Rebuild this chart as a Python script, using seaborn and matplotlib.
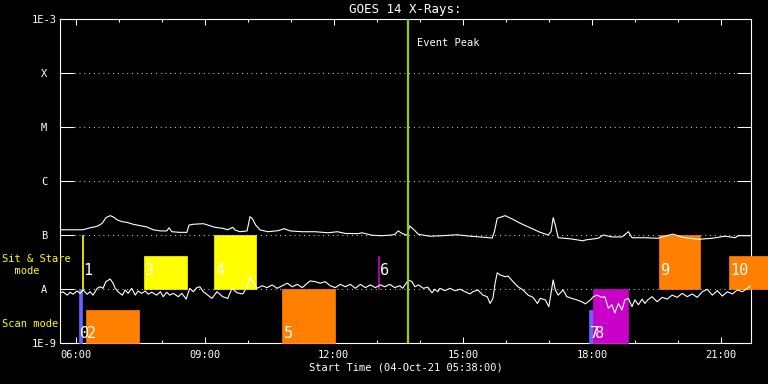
import matplotlib
matplotlib.use("Agg")
import matplotlib.pyplot as plt
import matplotlib.ticker as mticker
import pandas as pd
import seaborn as sns

START = "05:38"
END = "21:42"
PEAK = "13:43"

# 1-8 A channel (upper curve), W/m^2
long_time = ["05:38", "05:52", "05:59", "06:10", "06:20", "06:30", "06:37", "06:42", "06:48", "06:52",
             "06:58", "07:05", "07:11", "07:20", "07:32", "07:39", "07:48", "07:58", "08:07", "08:10",
             "08:14", "08:25", "08:35", "08:38", "08:44", "08:58", "09:04", "09:14", "09:25", "09:32",
             "09:39", "09:42", "09:49", "09:59", "10:03", "10:06", "10:11", "10:17", "10:28", "10:42",
             "10:51", "10:59", "11:16", "11:34", "11:52", "12:05", "12:16", "12:34", "12:39", "12:53",
             "13:07", "13:21", "13:25", "13:30", "13:35", "13:42", "13:46", "13:51", "13:58", "14:14",
             "14:32", "14:52", "15:10", "15:24", "15:41", "15:44", "15:48", "15:59", "16:09", "16:20",
             "16:34", "16:48", "16:59", "17:03", "17:06", "17:09", "17:13", "17:30", "17:48", "17:51",
             "18:09", "18:16", "18:28", "18:42", "18:51", "18:56", "19:14", "19:32", "19:53", "20:06",
             "20:28", "20:48", "21:06", "21:20", "21:24", "21:41"]
long_flux = [1.25e-7, 1.25e-7, 1.25e-7, 1.25e-7, 1.36e-7, 1.45e-7, 1.65e-7, 2.09e-7, 2.28e-7, 2.18e-7,
             1.90e-7, 1.76e-7, 1.72e-7, 1.58e-7, 1.47e-7, 1.41e-7, 1.25e-7, 1.19e-7, 1.19e-7, 1.36e-7,
             1.15e-7, 1.12e-7, 1.12e-7, 1.53e-7, 1.58e-7, 1.62e-7, 1.53e-7, 1.39e-7, 1.33e-7, 1.25e-7,
             1.39e-7, 1.24e-7, 1.15e-7, 1.19e-7, 2.18e-7, 2.04e-7, 1.53e-7, 1.24e-7, 1.15e-7, 1.20e-7,
             1.31e-7, 1.19e-7, 1.15e-7, 1.15e-7, 1.10e-7, 1.15e-7, 1.07e-7, 1.06e-7, 1.10e-7, 0.99e-7,
             0.97e-7, 1.00e-7, 1.03e-7, 1.19e-7, 1.07e-7, 0.99e-7, 1.47e-7, 1.28e-7, 1.03e-7, 0.95e-7,
             0.97e-7, 1.01e-7, 0.95e-7, 0.92e-7, 0.88e-7, 1.15e-7, 2.04e-7, 2.28e-7, 1.98e-7, 1.65e-7,
             1.36e-7, 1.12e-7, 1.00e-7, 1.15e-7, 2.09e-7, 1.53e-7, 0.89e-7, 0.85e-7, 0.78e-7, 0.81e-7,
             0.87e-7, 1.00e-7, 0.92e-7, 0.92e-7, 1.15e-7, 0.89e-7, 0.89e-7, 0.87e-7, 1.04e-7, 0.91e-7,
             0.83e-7, 0.87e-7, 0.95e-7, 0.89e-7, 0.97e-7, 0.97e-7]

# 0.5-4 A channel (lower curve), W/m^2
short_time = ["05:38", "05:42", "05:48", "05:52", "05:56", "06:02", "06:06", "06:10", "06:16", "06:20",
              "06:24", "06:30", "06:34", "06:38", "06:42", "06:48", "06:52", "06:55", "06:59", "07:05",
              "07:09", "07:13", "07:18", "07:23", "07:27", "07:32", "07:37", "07:41", "07:46", "07:53",
              "07:58", "08:02", "08:07", "08:11", "08:16", "08:23", "08:28", "08:34", "08:39", "08:44",
              "08:49", "08:53", "08:58", "09:04", "09:10", "09:17", "09:25", "09:32", "09:38", "09:45",
              "09:53", "09:59", "10:03", "10:07", "10:13", "10:20", "10:27", "10:34", "10:41", "10:48",
              "10:55", "11:02", "11:09", "11:16", "11:23", "11:27", "11:34", "11:41", "11:48", "11:55",
              "12:02", "12:09", "12:16", "12:23", "12:30", "12:37", "12:44", "12:51", "12:58", "13:05",
              "13:11", "13:18", "13:25", "13:32", "13:36", "13:44", "13:49", "13:53", "13:58", "14:05",
              "14:11", "14:17", "14:21", "14:25", "14:28", "14:35", "14:42", "14:49", "14:56", "15:03",
              "15:10", "15:14", "15:21", "15:28", "15:34", "15:38", "15:42", "15:45", "15:48", "15:52",
              "15:59", "16:03", "16:10", "16:17", "16:24", "16:31", "16:38", "16:44", "16:48", "16:55",
              "17:00", "17:03", "17:06", "17:09", "17:13", "17:20", "17:25", "17:32", "17:39", "17:46",
              "17:51", "17:58", "18:02", "18:07", "18:14", "18:18", "18:23", "18:28", "18:32", "18:37",
              "18:42", "18:46", "18:51", "18:56", "19:00", "19:05", "19:10", "19:14", "19:18", "19:24",
              "19:31", "19:38", "19:45", "19:52", "19:59", "20:06", "20:13", "20:20", "20:27", "20:34",
              "20:41", "20:48", "20:55", "21:02", "21:09", "21:16", "21:23", "21:30", "21:37", "21:41"]
short_flux = [0.83e-8, 0.89e-8, 0.77e-8, 0.87e-8, 0.80e-8, 0.92e-8, 0.83e-8, 0.96e-8, 0.80e-8, 0.89e-8,
              0.77e-8, 1.03e-8, 1.10e-8, 1.03e-8, 1.37e-8, 1.53e-8, 1.28e-8, 1.03e-8, 0.89e-8, 0.77e-8,
              0.96e-8, 0.83e-8, 1.03e-8, 0.77e-8, 0.92e-8, 0.83e-8, 0.92e-8, 0.80e-8, 0.87e-8, 0.77e-8,
              0.89e-8, 0.72e-8, 0.87e-8, 0.77e-8, 0.83e-8, 0.72e-8, 0.83e-8, 0.65e-8, 1.03e-8, 0.89e-8,
              1.06e-8, 1.10e-8, 0.89e-8, 0.77e-8, 0.67e-8, 0.89e-8, 0.72e-8, 0.67e-8, 1.03e-8, 0.85e-8,
              0.81e-8, 1.10e-8, 1.69e-8, 1.37e-8, 1.03e-8, 1.15e-8, 1.06e-8, 1.19e-8, 1.03e-8, 1.15e-8,
              1.28e-8, 1.10e-8, 1.22e-8, 1.06e-8, 1.28e-8, 1.41e-8, 1.37e-8, 1.28e-8, 1.37e-8, 1.15e-8,
              1.06e-8, 1.22e-8, 1.10e-8, 1.22e-8, 1.03e-8, 1.22e-8, 1.06e-8, 1.19e-8, 1.06e-8, 1.19e-8,
              1.10e-8, 1.22e-8, 1.06e-8, 1.15e-8, 1.03e-8, 1.47e-8, 1.37e-8, 1.10e-8, 1.19e-8, 1.03e-8,
              1.08e-8, 0.85e-8, 0.99e-8, 0.89e-8, 1.03e-8, 0.93e-8, 1.03e-8, 0.93e-8, 0.99e-8, 0.89e-8,
              0.81e-8, 0.89e-8, 0.96e-8, 0.77e-8, 0.72e-8, 0.54e-8, 0.67e-8, 1.28e-8, 2.00e-8, 1.82e-8,
              1.69e-8, 1.74e-8, 1.37e-8, 1.10e-8, 0.96e-8, 0.77e-8, 0.70e-8, 0.54e-8, 0.67e-8, 0.63e-8,
              0.47e-8, 0.83e-8, 1.47e-8, 0.96e-8, 0.77e-8, 0.96e-8, 0.72e-8, 0.67e-8, 0.63e-8, 0.58e-8,
              0.53e-8, 0.63e-8, 0.72e-8, 0.77e-8, 0.70e-8, 0.72e-8, 0.44e-8, 0.51e-8, 0.36e-8, 0.54e-8,
              0.41e-8, 0.63e-8, 0.67e-8, 0.47e-8, 0.63e-8, 0.51e-8, 0.65e-8, 0.54e-8, 0.63e-8, 0.72e-8,
              0.58e-8, 0.70e-8, 0.65e-8, 0.77e-8, 0.70e-8, 0.83e-8, 0.72e-8, 0.81e-8, 0.70e-8, 0.89e-8,
              0.99e-8, 0.77e-8, 0.93e-8, 0.74e-8, 0.89e-8, 0.81e-8, 0.96e-8, 0.89e-8, 1.03e-8, 1.14e-8]

# observation blocks drawn as bars
obs_label = ["0", "1", "2", "3", "4", "5", "6", "7", "8", "9", "10"]
obs_start = ["06:04", "06:09", "06:14", "07:35", "09:13", "10:48", "13:02", "17:56", "18:02", "19:34", "21:11"]
obs_end = ["06:09", "06:10", "07:28", "08:35", "10:11", "12:02", "13:03", "18:02", "18:50", "20:31", "22:10"]
obs_mode = ["scan", "sit", "scan", "sit", "sit", "scan", "sit", "scan", "scan", "sit", "sit"]
obs_top = [1e-8, 1e-7, 4.1e-9, 4.1e-8, 1e-7, 1e-8, 4.1e-8, 4.1e-9, 1e-8, 1e-7, 4.1e-8]
obs_group = ["b", "y", "o", "y", "y", "o", "m", "b", "m", "o", "o"]
mode_bottom = {"sit": 1e-8, "scan": 1e-9}

ytick_vals = [1e-9, 1e-8, 1e-7, 1e-6, 1e-5, 1e-4, 1e-3]
ytick_names = ["1E-9", "A", "B", "C", "M", "X", "1E-3"]
xtick_hours = [6, 9, 12, 15, 18, 21]

group_colors = {"b": "#6464ff", "y": "#ffff00", "o": "#ff8000", "m": "#c800c8"}
label_offset = {"sit": 13, "scan": 7}


def hours(clock):
    h, m = clock.split(":")
    return int(h) + int(m) / 60.0


long_df = pd.DataFrame({"hour": [hours(t) for t in long_time], "flux": long_flux})
short_df = pd.DataFrame({"hour": [hours(t) for t in short_time], "flux": short_flux})

sns.set_theme(style="dark", rc={
    "axes.facecolor": "black", "figure.facecolor": "black", "axes.edgecolor": "white",
    "text.color": "white", "axes.labelcolor": "white",
    "xtick.color": "white", "ytick.color": "white", "axes.linewidth": 0.8,
})
plt.rcParams["font.family"] = ["DejaVu Sans Mono", "DejaVu Sans"]

fig = plt.figure(figsize=(7.68, 3.84), dpi=100)
ax = fig.add_axes([60 / 768, 41 / 384, 691 / 768, 324 / 384])

# bars first so the curves sit on top
for lbl, s, e, mode, top, grp in zip(obs_label, obs_start, obs_end, obs_mode, obs_top, obs_group):
    bot = mode_bottom[mode]
    c = group_colors[grp]
    ax.bar(hours(s), top - bot, width=hours(e) - hours(s), bottom=bot, align="edge",
           color=c, edgecolor=c, linewidth=0.5, zorder=3, clip_on=False)
    ax.annotate(lbl, xy=(hours(s), bot), xytext=(1, label_offset[mode]), textcoords="offset points",
                color="white", fontsize=11, ha="left", va="center", zorder=7, annotation_clip=False)

sns.lineplot(data=long_df, x="hour", y="flux", ax=ax, color="white", linewidth=0.8,
             estimator=None, sort=False, zorder=5)
sns.lineplot(data=short_df, x="hour", y="flux", ax=ax, color="white", linewidth=0.8,
             estimator=None, sort=False, zorder=5)

ax.axvline(hours(PEAK), color="#9acd00", linewidth=1.6, zorder=6)
ax.annotate("Event Peak", xy=(hours(PEAK), 1e-3), xytext=(7, -17), textcoords="offset points",
            color="white", fontsize=7.5, ha="left", va="center")

ax.set_yscale("log")
ax.set_ylim(1e-9, 1e-3)
ax.set_xlim(hours(START), hours(END))

ax.set_yticks(ytick_vals)
ax.set_yticklabels(ytick_names)
ax.yaxis.set_minor_locator(mticker.NullLocator())
ax.set_xticks(xtick_hours)
ax.set_xticklabels([f"{h:02d}:00" for h in xtick_hours])
ax.set_xticks(range(6, 22), minor=True)

ax.tick_params(axis="x", which="major", direction="in", length=4.5, width=0.75,
               bottom=True, top=True, labelsize=7.5, pad=5)
ax.tick_params(axis="x", which="minor", direction="in", length=2.3, width=0.75,
               bottom=True, top=True)
ax.tick_params(axis="y", which="major", direction="in", length=10, width=0.75,
               left=True, right=True, labelsize=7.5, pad=11.5)
for t in ax.get_yticklabels():
    t.set_ha("center")

for v in ytick_vals[1:-1]:
    ax.axhline(v, color="white", linewidth=0.8, linestyle=(0, (0.7, 3.6)), zorder=2)

ax.grid(False)
for sp in ax.spines.values():
    sp.set_color("white")
    sp.set_zorder(2.5)

ax.set_title("GOES 14 X-Rays:", fontsize=9, color="white", pad=4)
ax.set_xlabel("Start Time (04-Oct-21 05:38:00)", fontsize=7.5, labelpad=2)
ax.set_ylabel("")

fig.text(2 / 768, 1 - 265 / 384, "Sit & Stare\n  mode", color="yellow", fontsize=7.5,
         ha="left", va="center", linespacing=1.15)
fig.text(2 / 768, 1 - 324 / 384, "Scan mode", color="yellow", fontsize=7.5, ha="left", va="center")

fig.savefig("out.png", dpi=100, facecolor="black")
plt.close(fig)
